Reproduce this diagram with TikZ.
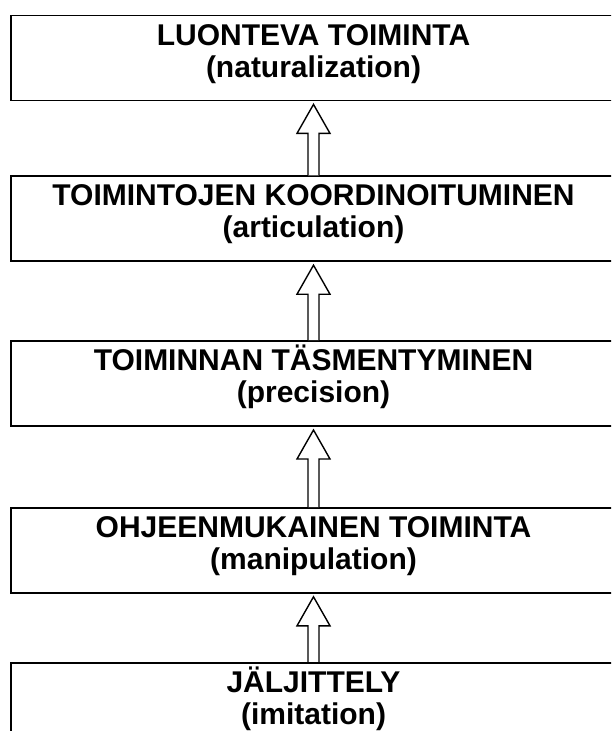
\documentclass[tikz,border=0pt]{standalone}
\usepackage{fontspec}
\setmainfont{Liberation Sans}
\usetikzlibrary{positioning,calc}

\begin{document}
\begin{tikzpicture}[x=1pt, y=-1pt,
		level/.style={draw, line width=1.8pt, minimum width=605pt, minimum height=85pt, inner sep=4pt,
			align=center, font=\fontsize{30}{32}\selectfont\bfseries, text height=54pt, text depth=16pt},
		uparrow/.style={draw, line width=1.4pt, fill=white}]
			\clip (0,0) rectangle (611,731);
			\node[level] (b1) at (313.5,58) {LUONTEVA TOIMINTA\\(naturalization)};
			\node[level] (b2) [below=74pt of b1] {TOIMINTOJEN KOORDINOITUMINEN\\(articulation)};
			\node[level] (b3) [below=78pt of b2] {TOIMINNAN TÄSMENTYMINEN\\(precision)};
			\node[level] (b4) [below=80pt of b3] {OHJEENMUKAINEN TOIMINTA\\(manipulation)};
			\node[level] (b5) [below=73pt of b4, yshift=5pt] {JÄLJITTELY\\(imitation)};

			\foreach \lo/\hi in {b2/b1, b3/b2, b4/b3, b5/b4}
				\draw[uparrow] ($(\lo.north)+(-5.5,0)$) -- ($(\hi.south)+(-5.5,32)$) -- ++(-11,0)
					-- ($(\hi.south)+(0,3)$) -- ($(\hi.south)+(16.5,32)$) -- ++(-11,0) -- ($(\lo.north)+(5.5,0)$);
		\end{tikzpicture}
\end{document}
